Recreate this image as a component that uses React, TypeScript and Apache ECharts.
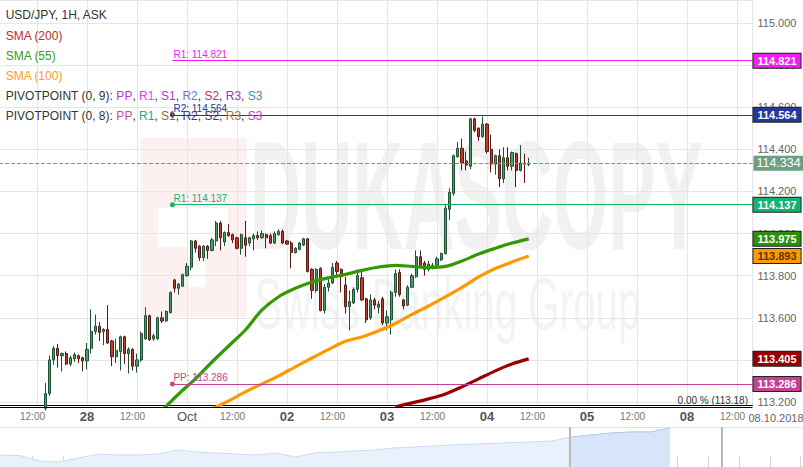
import React, { useEffect, useRef } from 'react';
import * as echarts from 'echarts';

const FONT = '"Liberation Sans", Arial, Helvetica, sans-serif';
const OX = 13; // container starts 13px left of the page

// ---------------- data ----------------
// hourly candles, trading-hour index (Sep 27 00:00 = 0, weekends skipped)
const firstHour = 14;
const openP = [
  113.17, 113.24, 113.40, 113.455, 113.42, 113.43, 113.38, 113.405, 113.42, 113.41,
  113.395, 113.455, 113.535, 113.56, 113.535, 113.545, 113.49, 113.415, 113.44, 113.51,
  113.43, 113.45, 113.37, 113.40, 113.50, 113.61, 113.50, 113.50, 113.60, 113.585,
  113.625, 113.78, 113.74, 113.75, 113.80, 113.84, 113.965, 113.94, 113.885, 113.94,
  113.92, 113.965, 114.05, 113.96, 114.005, 113.995, 113.98, 113.93, 113.98, 113.955,
  113.975, 113.99, 113.98, 113.995, 113.99, 113.955, 113.995, 114.01, 113.965, 113.955,
  113.91, 113.925, 113.945, 113.975, 113.83, 113.73, 113.835, 113.635, 113.745, 113.765,
  113.86, 113.83, 113.756, 113.654, 113.67, 113.735, 113.79, 113.69, 113.60, 113.685,
  113.65, 113.69, 113.575, 113.59, 113.72, 113.815, 113.685, 113.66, 113.745, 113.795,
  113.89, 113.86, 113.83, 113.84, 113.85, 113.875, 113.905, 114.115, 114.19, 114.365,
  114.405, 114.345, 114.32, 114.545, 114.50, 114.46, 114.52, 114.40, 114.33, 114.37,
  114.26, 114.36, 114.32, 114.38, 114.30, 114.335, 114.328,
];
const closeP = [
  113.24, 113.40, 113.455, 113.42, 113.43, 113.38, 113.41, 113.425, 113.405, 113.395,
  113.45, 113.535, 113.56, 113.53, 113.545, 113.48, 113.415, 113.445, 113.51, 113.43,
  113.45, 113.37, 113.40, 113.525, 113.61, 113.495, 113.515, 113.60, 113.585, 113.63,
  113.72, 113.74, 113.76, 113.805, 113.845, 113.965, 113.93, 113.885, 113.94, 113.92,
  113.97, 114.05, 113.98, 114.005, 113.99, 113.97, 113.93, 113.995, 113.945, 113.98,
  113.99, 113.98, 114.00, 113.98, 113.955, 114.00, 114.01, 113.955, 113.95, 113.91,
  113.93, 113.955, 113.975, 113.82, 113.73, 113.83, 113.635, 113.745, 113.765, 113.84,
  113.82, 113.795, 113.653, 113.677, 113.735, 113.80, 113.685, 113.59, 113.685, 113.66,
  113.665, 113.575, 113.605, 113.72, 113.81, 113.71, 113.656, 113.745, 113.80, 113.89,
  113.85, 113.83, 113.855, 113.85, 113.88, 113.905, 114.12, 114.195, 114.37, 114.405,
  114.335, 114.325, 114.545, 114.49, 114.46, 114.52, 114.39, 114.33, 114.37, 114.26,
  114.36, 114.32, 114.385, 114.30, 114.335, 114.33, 114.334,
];
const lowP = [
  113.16, 113.23, 113.377, 113.364, 113.345, 113.375, 113.37, 113.39, 113.385, 113.345,
  113.355, 113.43, 113.52, 113.49, 113.47, 113.475, 113.37, 113.385, 113.35, 113.38,
  113.335, 113.35, 113.34, 113.39, 113.495, 113.49, 113.49, 113.495, 113.575, 113.58,
  113.62, 113.72, 113.71, 113.745, 113.795, 113.825, 113.91, 113.87, 113.87, 113.88,
  113.915, 113.94, 113.92, 113.94, 113.985, 113.955, 113.925, 113.90, 113.89, 113.94,
  113.92, 113.97, 113.975, 113.93, 113.95, 113.95, 113.99, 113.95, 113.945, 113.835,
  113.905, 113.92, 113.94, 113.815, 113.69, 113.72, 113.63, 113.62, 113.725, 113.76,
  113.79, 113.72, 113.62, 113.54, 113.665, 113.72, 113.68, 113.575, 113.59, 113.64,
  113.62, 113.565, 113.54, 113.52, 113.70, 113.70, 113.64, 113.655, 113.74, 113.79,
  113.835, 113.80, 113.82, 113.83, 113.84, 113.87, 113.90, 114.065, 114.18, 114.36,
  114.30, 114.30, 114.305, 114.48, 114.44, 114.455, 114.38, 114.29, 114.28, 114.22,
  114.24, 114.30, 114.30, 114.22, 114.295, 114.24, 114.32,
];
const highP = [
  113.29, 113.42, 113.466, 113.476, 113.435, 113.44, 113.42, 113.435, 113.425, 113.415,
  113.48, 113.64, 113.615, 113.58, 113.55, 113.66, 113.495, 113.50, 113.515, 113.515,
  113.46, 113.455, 113.43, 113.535, 113.65, 113.615, 113.525, 113.605, 113.63, 113.635,
  113.725, 113.785, 113.765, 113.81, 113.86, 113.97, 113.97, 113.945, 113.945, 113.945,
  113.98, 114.06, 114.06, 114.01, 114.045, 114.00, 113.985, 114.00, 114.06, 113.985,
  114.00, 114.01, 114.015, 114.00, 114.00, 114.01, 114.02, 114.02, 113.97, 113.965,
  113.935, 113.96, 113.98, 113.98, 113.835, 113.835, 113.84, 113.76, 113.79, 113.86,
  113.87, 113.835, 113.795, 113.73, 113.745, 113.83, 113.83, 113.695, 113.71, 113.695,
  113.68, 113.70, 113.635, 113.73, 113.83, 113.83, 113.69, 113.755, 113.81, 113.92,
  113.92, 113.87, 113.87, 113.86, 113.89, 113.91, 114.14, 114.215, 114.375, 114.435,
  114.45, 114.39, 114.55, 114.55, 114.505, 114.555, 114.525, 114.47, 114.375, 114.40,
  114.41, 114.41, 114.39, 114.385, 114.42, 114.38, 114.36,
];

const sma55Hours = [42, 46, 50, 54, 58, 62, 66, 70, 74, 78, 82, 86, 90, 94, 98, 102, 106, 110, 114, 118, 122, 126, 130];
const sma55 = [113.16, 113.238, 113.31, 113.39, 113.466, 113.542, 113.637, 113.70, 113.74, 113.77, 113.79, 113.806, 113.825, 113.841, 113.849, 113.844, 113.839, 113.844, 113.87, 113.903, 113.93, 113.955, 113.975];
const sma100Hours = [54, 58, 62, 66, 70, 74, 78, 82, 86, 90, 94, 98, 102, 106, 110, 114, 118, 122, 126, 130];
const sma100 = [113.167, 113.205, 113.248, 113.286, 113.324, 113.367, 113.409, 113.45, 113.488, 113.509, 113.538, 113.573, 113.616, 113.656, 113.699, 113.744, 113.794, 113.834, 113.865, 113.893];
const sma200Hours = [98, 102, 106, 110, 114, 118, 122, 126, 130];
const sma200 = [113.177, 113.196, 113.215, 113.238, 113.272, 113.31, 113.348, 113.381, 113.405];

const pivotNames = ['R1', 'R2', 'R1', 'PP'];
const pivotValues = [114.821, 114.564, 114.137, 113.286];
const pivotStartHour = 44.5;

const dayTickHours = [24, 48, 72, 96, 120, 144, 168];
const dayTickLabels = ['28', 'Oct', '02', '03', '04', '05', '08'];

// navigator history (area height units)
const navValues = [12, 11.5, 6, 5, 9, 13, 12, 12, 13, 17, 15, 14, 13, 12, 14, 10, 14, 15, 16, 17, 19, 20, 21, 22, 23, 23.5, 24.5, 25, 26, 30, 32, 34, 35, 35, 39];
const navSelectedFrom = 29; // first navigator point inside the selected window

// ---------------- styles ----------------
const pivotColors = ['#f31cf3', '#24389b', '#13b372', '#c4438f'];
const smaColors = ['#339900', '#ff9900', '#990000'];
const pivotTags = ['PP', 'R1', 'S1', 'R2', 'S2', 'R3', 'S3'];
const pivot9Colors = ['#b03ccf', '#ff33ff', '#a23ccb', '#7272d6', '#cb2b68', '#a52fc2', '#2b98b8'];
const pivot8Colors = ['#d04a9e', '#1bb074', '#8c6a2a', '#2b409a', '#4c3456', '#a67432', '#c93ccc'];

const PX_PER_UNIT = 210.56;
const Y_TOP = 23; // pixel of 115.000
const GRID_BOTTOM_Y = 405.5;
const yMax = 115 + Y_TOP / PX_PER_UNIT;
const yMin = 113.2 - (GRID_BOTTOM_Y - 402) / PX_PER_UNIT;
const xMax = (752.5 + OX) / (100 / 24);
const NAV_STEP = 670 / 34;
const navXMax = 803 / NAV_STEP;
const HANDLE_L = 570;
const HANDLE_R = 722;

const P = (x: number) => x + OX;

function pivotRow(prefix: string, colors: string[]) {
  const rich: any = { n: { fill: '#333', fontSize: 12, fontFamily: FONT } };
  let text = `{n|${prefix}}`;
  pivotTags.forEach((t, i) => {
    rich['c' + i] = { fill: colors[i], fontSize: 12, fontFamily: FONT };
    text += `{c${i}|${t}}` + (i < pivotTags.length - 1 ? '{n|, }' : '');
  });
  return { text, rich };
}

function legendText(y: number, text: string, color: string, rich?: any) {
  const style: any = { text, fill: color, fontSize: 12, fontFamily: FONT, verticalAlign: 'middle' };
  if (rich) style.rich = rich;
  return { type: 'text', x: P(5.7), y, z: 50, silent: true, style };
}

function buildOption() {
  const candleData = openP.map((o, i) => [firstHour + i, o, closeP[i], lowP[i], highP[i]]);
  const lastPrice = closeP[closeP.length - 1];
  const tagValues = [...pivotValues, sma55[sma55.length - 1], sma100[sma100.length - 1], sma200[sma200.length - 1]];
  const tagBg = [...pivotColors, '#2e8f0c', '#ff9900', '#990000'];
  const tagFg = ['#fff', '#fff', '#fff', '#fff', '#fff', '#5b3600', '#fff'];
  const xEnd = xMax - 0.02;

  const tagItems: any[] = tagValues.map((v, i) => [
    {
      coord: [0.02, v],
      lineStyle: { color: 'rgba(0,0,0,0)', width: 0 },
      label: {
        show: true, position: 'end', distance: 1, formatter: v.toFixed(3),
        color: tagFg[i], backgroundColor: tagBg[i], borderColor: '#222', borderWidth: 1,
        padding: [1, 4, 1, 4], fontSize: 11, fontWeight: 'bold', lineHeight: 12, fontFamily: FONT,
      },
    },
    { coord: [xEnd, v] },
  ]);
  tagItems.push([
    {
      coord: [0.02, lastPrice],
      lineStyle: { color: '#6b9f82', width: 1, type: 'dashed' },
      label: {
        show: true, position: 'end', distance: 1, formatter: lastPrice.toFixed(3),
        color: '#fff', backgroundColor: '#6b9f82', padding: [1, 3, 1, 3], fontSize: 12.5,
        lineHeight: 13, fontFamily: FONT,
      },
    },
    { coord: [xEnd, lastPrice] },
  ]);

  const pivotItems = pivotValues.map((v, i) => [
    {
      coord: [pivotStartHour, v],
      symbol: i === 0 ? 'none' : 'circle',
      lineStyle: { color: pivotColors[i], width: 1, type: 'solid' },
      label: {
        show: true, position: 'insideStartTop', distance: 1,
        formatter: `${pivotNames[i]}: ${v.toFixed(3)}`, color: pivotColors[i], fontSize: 10, fontFamily: FONT,
      },
    },
    { coord: [xEnd, v], symbol: 'none' },
  ]);

  const row9 = pivotRow('PIVOTPOINT (0, 9): ', pivot9Colors);
  const row8 = pivotRow('PIVOTPOINT (0, 8): ', pivot8Colors);

  return {
    animation: false,
    textStyle: { fontFamily: FONT },
    grid: [
      { left: 0, right: 50.5, top: 0, bottom: 467 - GRID_BOTTOM_Y, containLabel: false },
      { left: OX, right: 0, top: 427, bottom: 0, containLabel: false },
    ],
    xAxis: [
      {
        type: 'value', gridIndex: 0, position: 'bottom', min: 0, max: xMax, interval: 12,
        axisLine: { show: true, lineStyle: { color: '#000', width: 1 } },
        axisTick: { show: false },
        splitLine: { show: true, lineStyle: { color: '#e6e6e6', width: 1 } },
        axisLabel: {
          margin: 3, showMinLabel: false, showMaxLabel: false,
          formatter: (v: number) => {
            if (Math.abs(v - Math.round(v)) > 1e-6) return '';
            const i = dayTickHours.indexOf(Math.round(v));
            if (i >= 0) return isNaN(Number(dayTickLabels[i])) ? `{m|${dayTickLabels[i]}}` : `{d|${dayTickLabels[i]}}`;
            if (Math.round(v) % 24 === 12) return '{t|12:00}';
            return '';
          },
          rich: {
            t: { fontSize: 10, color: '#777', padding: [0, 9, 0, 0], lineHeight: 16, fontFamily: FONT },
            d: { fontSize: 13, fontWeight: 'bold', color: '#555', lineHeight: 16, fontFamily: FONT },
            m: { fontSize: 13, color: '#555', lineHeight: 16, fontFamily: FONT },
          },
        },
      },
      { type: 'value', gridIndex: 1, position: 'top', min: 0, max: navXMax, show: false },
      {
        type: 'value', gridIndex: 1, position: 'bottom', min: -32.3 / 30.73, max: (803 - 32.3) / 30.73, splitNumber: 26,
        axisLine: { show: false }, axisLabel: { show: false }, splitLine: { show: false },
        axisTick: { show: true, inside: true, length: 11, lineStyle: { color: '#d6d6d6', width: 1 } },
      },
    ],
    yAxis: [
      {
        type: 'value', gridIndex: 0, position: 'right', min: yMin, max: yMax, splitNumber: 9,
        axisLine: { show: true, lineStyle: { color: '#000', width: 1 } },
        axisTick: { show: false },
        splitLine: { show: true, lineStyle: { color: '#e6e6e6', width: 1 } },
        axisLabel: {
          color: '#666', fontSize: 11, margin: 5, showMinLabel: false, showMaxLabel: false, fontFamily: FONT,
          formatter: (v: number) => v.toFixed(3),
        },
      },
      { type: 'value', gridIndex: 1, min: 0, max: 40, show: false },
    ],
    series: [
      {
        type: 'candlestick', xAxisIndex: 0, yAxisIndex: 0, data: candleData, barWidth: 2.6, z: 3,
        itemStyle: { color: '#4f9a6c', color0: '#c23b2a', borderColor: '#1e5234', borderColor0: '#5a1b12', borderWidth: 1 },
      },
      {
        type: 'line', xAxisIndex: 0, yAxisIndex: 0, z: 4, showSymbol: false, smooth: 0.3,
        data: sma55Hours.map((h, i) => [h, sma55[i]]), lineStyle: { color: smaColors[0], width: 3.2 },
      },
      {
        type: 'line', xAxisIndex: 0, yAxisIndex: 0, z: 4, showSymbol: false, smooth: 0.3,
        data: sma100Hours.map((h, i) => [h, sma100[i]]), lineStyle: { color: smaColors[1], width: 3.2 },
      },
      {
        type: 'line', xAxisIndex: 0, yAxisIndex: 0, z: 4, showSymbol: false, smooth: 0.3,
        data: sma200Hours.map((h, i) => [h, sma200[i]]), lineStyle: { color: smaColors[2], width: 3.2 },
      },
      {
        type: 'line', xAxisIndex: 0, yAxisIndex: 0, data: [], z: 5,
        markLine: { silent: true, animation: false, symbol: ['circle', 'none'], symbolSize: 5, data: pivotItems },
      },
      {
        type: 'line', xAxisIndex: 0, yAxisIndex: 0, data: [], z: 6,
        markLine: { silent: true, animation: false, symbol: ['none', 'none'], data: tagItems },
      },
      {
        type: 'line', xAxisIndex: 1, yAxisIndex: 1, z: 1, showSymbol: false,
        data: navValues.map((v, i) => [i, v]),
        itemStyle: { color: '#c9dbf4' },
        lineStyle: { color: '#c9dbf4', width: 1 },
        areaStyle: { color: '#e9f1fc', opacity: 1 },
      },
      {
        type: 'line', xAxisIndex: 1, yAxisIndex: 1, z: 1.5, showSymbol: false,
        data: navValues.map((v, i) => [i, v]).slice(navSelectedFrom),
        itemStyle: { color: '#b3cbf0' },
        lineStyle: { color: '#b3cbf0', width: 1 },
        areaStyle: { color: '#d7e4f9', opacity: 1 },
      },
    ],
    graphic: {
      elements: [
        { type: 'rect', z: -10, silent: true, shape: { x: P(141), y: 138, width: 106, height: 179 }, style: { fill: '#fdf0f0' } },
        { type: 'rect', z: -9, silent: true, shape: { x: P(158), y: 208, width: 70, height: 39 }, style: { fill: '#ffffff' } },
        { type: 'rect', z: -9, silent: true, shape: { x: P(187), y: 247, width: 18, height: 40 }, style: { fill: '#ffffff' } },
        {
          type: 'text', z: -9, silent: true, x: P(250), y: 195, scaleX: 0.46,
          style: { text: 'DUKASCOPY', fontSize: 154, fontWeight: 'bold', fontFamily: FONT, fill: '#f1f1f1', verticalAlign: 'middle' },
        },
        {
          type: 'text', z: -9, silent: true, x: P(255), y: 304, scaleX: 0.56,
          style: { text: 'Swiss Banking Group', fontSize: 72, fontFamily: FONT, fill: '#f3f3f3', verticalAlign: 'middle' },
        },
        legendText(15, 'USD/JPY, 1H, ASK', '#333'),
        legendText(36, 'SMA (200)', '#b82c2c'),
        legendText(56, 'SMA (55)', '#3a9a1a'),
        legendText(76, 'SMA (100)', '#ff9a1e'),
        legendText(96, row9.text, '#333', row9.rich),
        legendText(116, row8.text, '#333', row8.rich),
        { type: 'line', z: 20, silent: true, shape: { x1: P(0), y1: 407.5, x2: P(752.5), y2: 407.5 }, style: { stroke: '#000', lineWidth: 1 } },
        {
          type: 'text', z: 20, silent: true, x: P(748), y: 400,
          style: { text: `0.00 % (${yMin.toFixed(2)})`, fontSize: 10, fontFamily: FONT, fill: '#333', align: 'right', verticalAlign: 'middle' },
        },
        {
          type: 'text', z: 20, silent: true, x: P(776), y: 418,
          style: { text: '08.10.2018', fontSize: 11, fontFamily: FONT, fill: '#666', align: 'center', verticalAlign: 'middle' },
        },
        { type: 'line', z: 20, silent: true, shape: { x1: P(0), y1: 427.5, x2: P(803), y2: 427.5 }, style: { stroke: '#e3e3e3', lineWidth: 1 } },
        { type: 'line', z: 20, silent: true, shape: { x1: P(HANDLE_L), y1: 427, x2: P(HANDLE_L), y2: 467 }, style: { stroke: '#b8b8b8', lineWidth: 2 } },
        { type: 'line', z: 20, silent: true, shape: { x1: P(HANDLE_R), y1: 427, x2: P(HANDLE_R), y2: 467 }, style: { stroke: '#b8b8b8', lineWidth: 2 } },
      ],
    },
  };
}

export default function App() {
  const ref = useRef<HTMLDivElement>(null);
  useEffect(() => {
    const el = ref.current;
    if (!el) return;
    const chart = echarts.init(el, null, { renderer: 'svg' });
    chart.setOption(buildOption() as any);
    return () => chart.dispose();
  }, []);
  return (
    <div
      ref={ref}
      style={{ position: 'absolute', left: -OX, top: 0, width: 803 + OX, height: 467, background: '#fff' }}
    />
  );
}
